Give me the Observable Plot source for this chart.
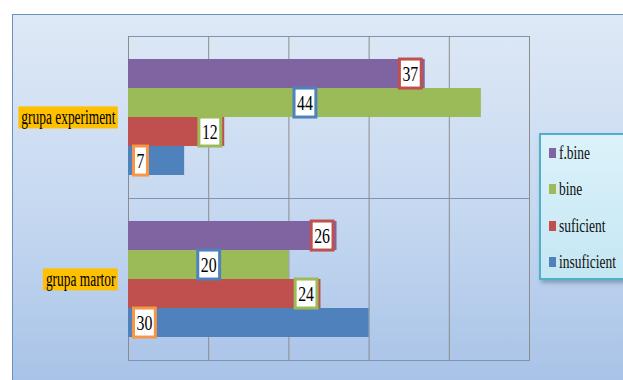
<!DOCTYPE html>
<html><head><meta charset="utf-8">
<script src="https://cdn.jsdelivr.net/npm/d3@7"></script>
<script src="https://cdn.jsdelivr.net/npm/@observablehq/plot@0.6"></script>
<style>
html,body{margin:0;padding:0;background:#fff;}
body{width:623px;height:380px;overflow:hidden;position:relative;font-family:"Liberation Serif","Times New Roman",serif;}
#bg{position:absolute;left:12px;top:14px;width:640px;height:400px;box-sizing:border-box;border:1.5px solid #6b8fc4;background:linear-gradient(to bottom,#dfe9f6 0%,#c5d8f0 50%,#a3bfe6 100%);}
#chart{position:absolute;left:0;top:0;}
#chart svg, #chart svg text{font-family:"Liberation Serif","Times New Roman",serif !important;}
#legend{position:absolute;left:539px;top:133px;width:110px;height:147px;box-sizing:border-box;border:2px solid #4fb0c9;background:linear-gradient(to bottom,#dcf2fa,#c4e7f3);box-shadow:2px 3px 4px rgba(40,60,90,0.35);}
.item{position:absolute;left:8px;height:22px;display:flex;align-items:center;font-size:19px;color:#111;white-space:nowrap;}
.sw{width:7px;height:10px;margin-right:3px;flex:none;}
.lbl{display:inline-block;transform:scaleX(0.71);transform-origin:left center;}
#chart g[aria-label^="fy-axis"] text{font-size:20px;}
</style></head><body>
<div id="bg"></div><div id="chart"></div><div id="legend"></div>
<script>
const groups = ["grupa experiment", "grupa martor"];
const series = ["f.bine", "bine", "suficient", "insuficient"];
const experimentValues = [37, 44, 12, 7];
const martorValues = [26, 20, 24, 30];
const xTicks = [0, 10, 20, 30, 40, 50];
const seriesColors = ["#8064a2", "#9bbb59", "#c0504d", "#4f81bd"];
const labelBorders = ["#c0504d", "#4f81bd", "#9bbb59", "#f79646"];
const labelPlacement = ["end", "middle", "end", "start"];

const groupValues = [experimentValues, martorValues];
const data = groups.flatMap((g, gi) => series.map((s, si) => ({
  group: g, series: s, value: groupValues[gi][si], place: labelPlacement[si]
})));

const labelX = d => d.place === "end" ? d.value : d.place === "middle" ? d.value / 2 : 0;
const textOpts = (place, anchor, dx) => ({
  filter: d => d.place === place, x: labelX, y: "series", fy: "group",
  text: d => String(d.value), textAnchor: anchor, dx, fontSize: 22, fill: "#000", ariaLabel: "series"
});

const plot = Plot.plot({
  width: 623, height: 380,
  marginLeft: 128, marginRight: 94, marginTop: 35, marginBottom: 20,
  style: {background: "transparent", fontFamily: "'Liberation Serif','Times New Roman',serif", color: "#000"},
  x: {domain: [0, 50], axis: null},
  y: {domain: series, axis: null, paddingInner: 0, paddingOuter: 0.755},
  fy: {domain: groups, padding: 0, axis: "left", label: null, tickSize: 0, tickPadding: 13},
  color: {domain: series, range: seriesColors},
  marks: [
    Plot.frame({stroke: "#7f93b3"}),
    Plot.ruleX(xTicks, {stroke: "#8c8c8c"}),
    Plot.barX(data, {x: "value", y: "series", fy: "group", fill: "series"}),
    Plot.text(data, textOpts("end", "end", -7)),
    Plot.text(data, textOpts("middle", "middle", 0)),
    Plot.text(data, textOpts("start", "start", 8))
  ]
});
document.getElementById("chart").append(plot);

const NS = "http://www.w3.org/2000/svg";
function condense(t, f) {
  const w = t.getComputedTextLength();
  t.setAttribute("textLength", (w * f).toFixed(2));
  t.setAttribute("lengthAdjust", "spacingAndGlyphs");
}
function insertRect(t, attrs) {
  const r = document.createElementNS(NS, "rect");
  const tr = t.getAttribute("transform");
  if (tr) r.setAttribute("transform", tr);
  for (const k in attrs) r.setAttribute(k, attrs[k]);
  t.parentNode.insertBefore(r, t);
}
// value labels with framed white boxes
plot.querySelectorAll('g[aria-label="text"] text').forEach(t => {
  condense(t, 0.72);
  const bb = t.getBBox();
  const cy = bb.y + bb.height / 2;
  const si = series.indexOf(t.getAttribute("aria-label"));
  insertRect(t, {x: bb.x - 3, y: cy - 14.5, width: bb.width + 6, height: 29,
    fill: "#fff", stroke: labelBorders[si >= 0 ? si : 0], "stroke-width": 3});
});
// group labels with orange highlight
plot.querySelectorAll('g[aria-label^="fy-axis"] text').forEach(t => {
  condense(t, 0.67);
  const bb = t.getBBox();
  insertRect(t, {x: bb.x - 3, y: bb.y + 0.5, width: bb.width + 5, height: bb.height - 1, fill: "#ffc000"});
});

// legend
const legend = document.getElementById("legend");
series.forEach((s, i) => {
  const item = document.createElement("div");
  item.className = "item";
  item.style.top = (7 + i * 36.4) + "px";
  const sw = document.createElement("span");
  sw.className = "sw"; sw.style.background = seriesColors[i];
  const lb = document.createElement("span");
  lb.className = "lbl"; lb.textContent = s;
  item.append(sw, lb);
  legend.append(item);
});
</script></body></html>
